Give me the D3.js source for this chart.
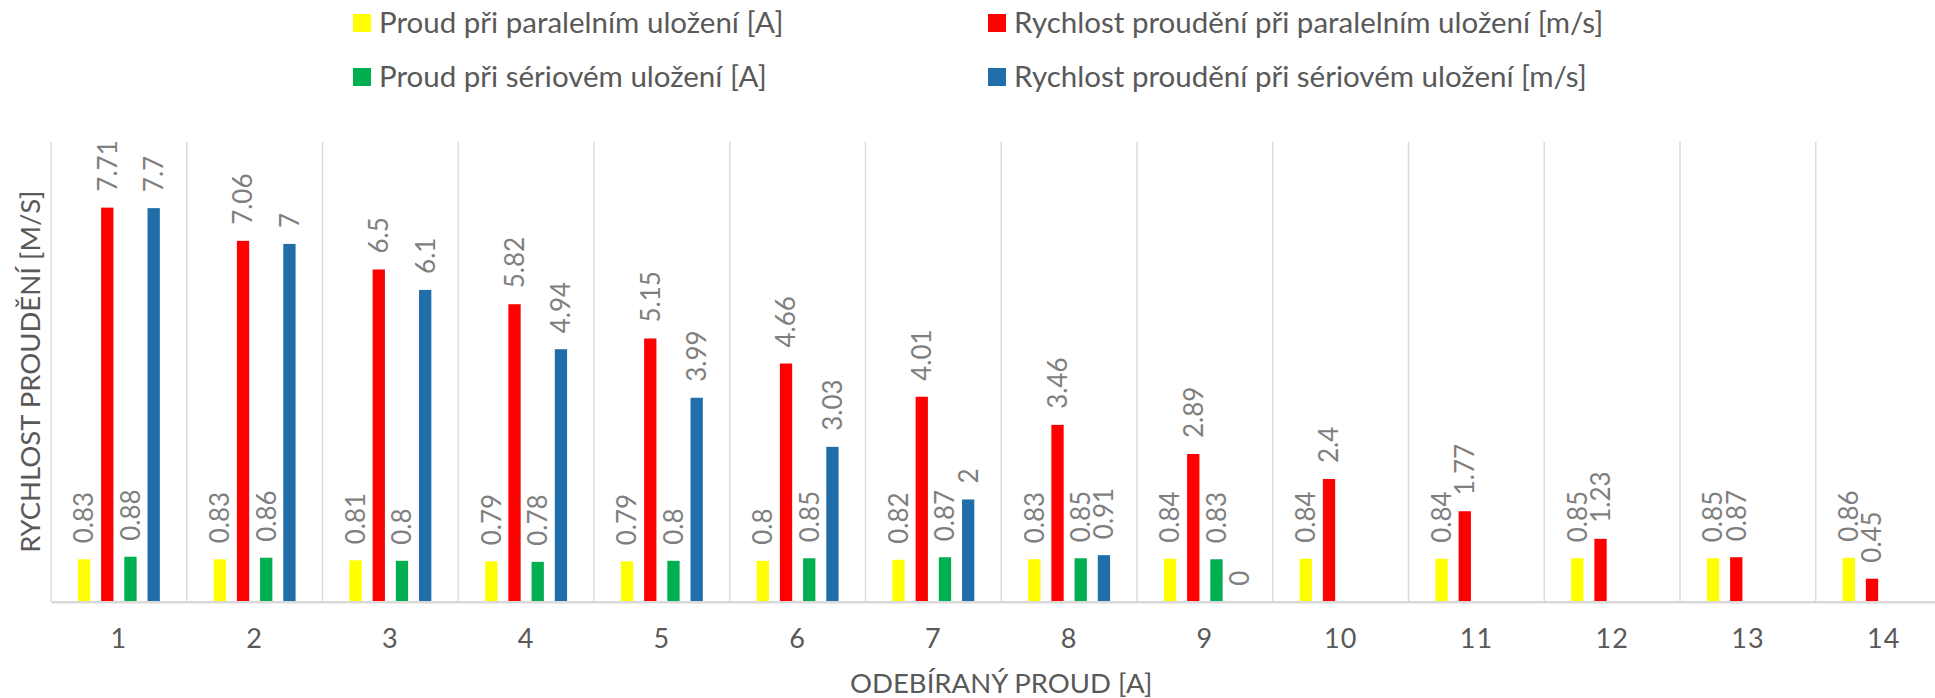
<!DOCTYPE html>
<html>
<head>
<meta charset="utf-8">
<script src="https://cdn.jsdelivr.net/npm/d3@7"></script>
<style>
  html, body { margin: 0; padding: 0; background: #fff; }
  svg { display: block; font-family: Lato, "Open Sans", sans-serif; }
</style>
</head>
<body>
<svg id="chart" width="1935" height="698"></svg>
<script>
// ---- data ----
const categories = ["1","2","3","4","5","6","7","8","9","10","11","12","13","14"];
const seriesNames = [
  "Proud při paralelním uložení [A]",
  "Rychlost proudění při paralelním uložení [m/s]",
  "Proud při sériovém uložení [A]",
  "Rychlost proudění při sériovém uložení [m/s]"
];
const proudParalelni    = [0.83, 0.83, 0.81, 0.79, 0.79, 0.8, 0.82, 0.83, 0.84, 0.84, 0.84, 0.85, 0.85, 0.86];
const rychlostParalelni = [7.71, 7.06, 6.5, 5.82, 5.15, 4.66, 4.01, 3.46, 2.89, 2.4, 1.77, 1.23, 0.87, 0.45];
const proudSeriove      = [0.88, 0.86, 0.8, 0.78, 0.8, 0.85, 0.87, 0.85, 0.83, null, null, null, null, null];
const rychlostSeriove   = [7.7, 7, 6.1, 4.94, 3.99, 3.03, 2, 0.91, 0, null, null, null, null, null];
const seriesColors = ["#FFFF00", "#FF0000", "#00B050", "#1F6EAA"];
const yDomain = [0, 9];
const xTitle = "ODEBÍRANÝ PROUD [A]";
const yTitle = "RYCHLOST PROUDĚNÍ [M/S]";

const seriesValues = [proudParalelni, rychlostParalelni, proudSeriove, rychlostSeriove];

// ---- layout ----
const svg = d3.select("#chart");
const plot = { left: 51, right: 1951.5, top: 141.7, bottom: 601.7 };
const textColor = "#595959";
const labelColor = "#7f7f7f";
const gridColor = "#d9d9d9";

const x0 = d3.scaleBand().domain(categories).range([plot.left, plot.right]).padding(0);
const x1 = d3.scaleBand().domain(d3.range(seriesNames.length))
  .range([0, x0.bandwidth()]).paddingInner(0.47).paddingOuter(1.16);
const y = d3.scaleLinear().domain(yDomain).range([plot.bottom, plot.top]);

// vertical gridlines at category boundaries
const bounds = categories.map(c => x0(c)).concat([x0.range()[1]]);
svg.append("g").selectAll("line").data(bounds).join("line")
  .attr("x1", d => d).attr("x2", d => d)
  .attr("y1", plot.top).attr("y2", plot.bottom)
  .attr("stroke", gridColor).attr("stroke-width", 1.4);

// bars
const rows = [];
categories.forEach((c, i) => {
  seriesValues.forEach((vals, s) => {
    if (vals[i] !== null && vals[i] !== undefined) rows.push({ c, s, v: vals[i] });
  });
});

svg.append("g").selectAll("rect").data(rows).join("rect")
  .attr("x", d => x0(d.c) + x1(d.s))
  .attr("y", d => y(d.v))
  .attr("width", x1.bandwidth())
  .attr("height", d => y(0) - y(d.v))
  .attr("fill", d => seriesColors[d.s]);

// x axis
const xAxis = svg.append("g")
  .attr("transform", `translate(0,${plot.bottom})`)
  .call(d3.axisBottom(x0).tickSize(0).tickPadding(27));
xAxis.select(".domain").attr("stroke", gridColor).attr("stroke-width", 2.6);
xAxis.selectAll("text")
  .attr("fill", textColor)
  .style("font-size", "27px")
  .style("font-family", "Lato, sans-serif")
  .style("letter-spacing", "1px");

// data labels (rotated)
svg.append("g").selectAll("text").data(rows).join("text")
  .attr("transform", d => `translate(${x0(d.c) + x1(d.s) + x1.bandwidth() / 2},${y(d.v) - 16}) rotate(-90)`)
  .attr("dy", "0.36em")
  .attr("text-anchor", "start")
  .attr("fill", labelColor)
  .style("font-size", "26px")
  .text(d => String(d.v));

// axis titles
svg.append("text")
  .attr("x", (plot.left + plot.right) / 2)
  .attr("y", 693)
  .attr("text-anchor", "middle")
  .attr("fill", textColor)
  .style("font-size", "27.5px")
  .text(xTitle);

svg.append("text")
  .attr("transform", `translate(40,${(plot.top + plot.bottom) / 2}) rotate(-90)`)
  .attr("text-anchor", "middle")
  .attr("fill", textColor)
  .style("font-size", "27.5px")
  .text(yTitle);

// legend (2 columns x 2 rows, row-major)
const legendCols = [353, 988];
const legendRows = [14, 68];
const legend = svg.append("g").selectAll("g").data(seriesNames).join("g")
  .attr("transform", (d, i) => `translate(${legendCols[i % 2]},${legendRows[Math.floor(i / 2)]})`);
legend.append("rect")
  .attr("width", 18).attr("height", 18)
  .attr("fill", (d, i) => seriesColors[i]);
legend.append("text")
  .attr("x", 26).attr("y", 18.5)
  .attr("fill", textColor)
  .style("font-size", "29.5px")
  .text(d => d);
</script>
</body>
</html>
